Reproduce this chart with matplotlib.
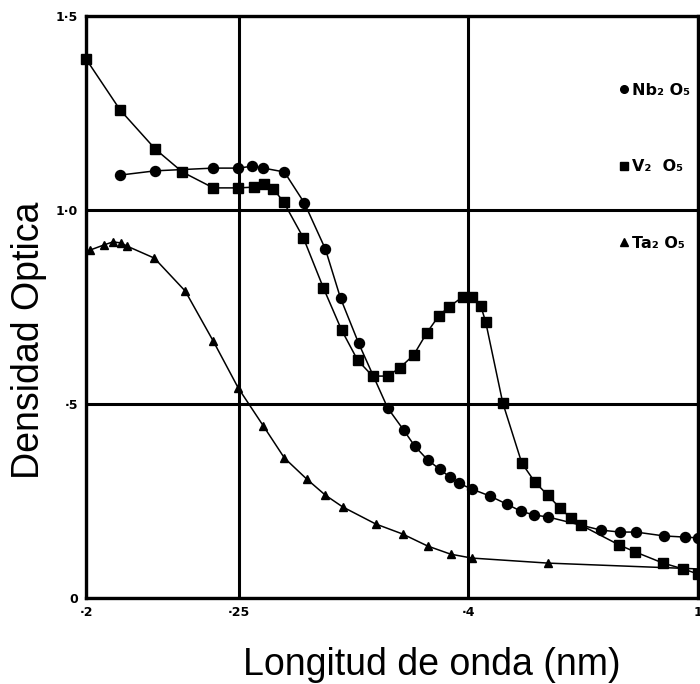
import matplotlib
matplotlib.use("Agg")
import matplotlib.pyplot as plt
import numpy as np
from matplotlib.lines import Line2D

# ======================
# Datos
# ======================
nb_x = [0.2093, 0.2199, 0.2399, 0.2497, 0.2556, 0.2604, 0.2700, 0.2799,
        0.2911, 0.2997, 0.3107, 0.3302, 0.3420, 0.3506, 0.3614, 0.3720,
        0.3813, 0.3900, 0.4034, 0.4236, 0.4445, 0.4634, 0.4825, 0.5048,
        0.6120, 0.6625, 0.7119, 0.8188, 0.9227, 1.0]
nb_y = [1.090, 1.101, 1.108, 1.108, 1.113, 1.108, 1.098, 1.018,
        0.899, 0.773, 0.657, 0.490, 0.433, 0.392, 0.356, 0.332,
        0.312, 0.296, 0.281, 0.263, 0.242, 0.224, 0.214, 0.209,
        0.175, 0.170, 0.170, 0.160, 0.157, 0.155]

v_x = [0.2000, 0.2093, 0.2199, 0.2288, 0.2399, 0.2497, 0.2564, 0.2608,
       0.2649, 0.2696, 0.2794, 0.2900, 0.3003, 0.3101, 0.3198, 0.3302,
       0.3390, 0.3498, 0.3606, 0.3711, 0.3803, 0.3941, 0.4034, 0.4133,
       0.4189, 0.4394, 0.4648, 0.4840, 0.5048, 0.5257, 0.5463, 0.5666,
       0.6596, 0.7086, 0.8144, 0.9117, 1.0]
v_y = [1.389, 1.258, 1.157, 1.098, 1.057, 1.057, 1.059, 1.067,
       1.054, 1.021, 0.928, 0.799, 0.691, 0.613, 0.572, 0.572,
       0.593, 0.626, 0.683, 0.727, 0.750, 0.776, 0.776, 0.753,
       0.711, 0.503, 0.348, 0.299, 0.265, 0.232, 0.206, 0.188,
       0.137, 0.119, 0.090, 0.075, 0.062]

ta_x = [0.2011, 0.2048, 0.2073, 0.2096, 0.2113, 0.2196, 0.2298, 0.2399,
        0.2497, 0.2604, 0.2700, 0.2810, 0.2911, 0.3009, 0.3218, 0.3412,
        0.3614, 0.3822, 0.4034, 0.5048, 1.0]
ta_y = [0.897, 0.910, 0.918, 0.915, 0.907, 0.876, 0.791, 0.662,
        0.541, 0.443, 0.361, 0.307, 0.265, 0.235, 0.191, 0.165,
        0.134, 0.113, 0.103, 0.090, 0.075]

x_ticks = [0.2, 0.25, 0.4, 1.0]
x_ticklabels = ["\u00b72", "\u00b725", "\u00b74", "1"]
y_ticks = [0, 0.5, 1.0, 1.5]
y_ticklabels = ["0", "\u00b75", "1\u00b70", "1\u00b75"]

labels = ["Nb\u2082 O\u2085", "V\u2082  O\u2085", "Ta\u2082 O\u2085"]


# escala recíproca del eje x (lineal en 1/lambda)
def fwd(x):
    x = np.asarray(x, dtype=float)
    with np.errstate(divide="ignore", invalid="ignore"):
        return -1.0 / x


def inv(y):
    y = np.asarray(y, dtype=float)
    with np.errstate(divide="ignore", invalid="ignore"):
        return -1.0 / y


# ======================
# Figura
# ======================
fig = plt.figure(figsize=(7.0, 6.84), dpi=100)
ax = fig.add_axes([0.123, 0.1257, 0.874, 0.8509])
ax.set_xscale("function", functions=(fwd, inv))
ax.set_xlim(0.2, 1.0)
ax.set_ylim(0, 1.5)

lw_data = 1.1
ax.plot(nb_x, nb_y, color="black", lw=lw_data, marker="o", ms=7.2,
        zorder=3, clip_on=False)
ax.plot(v_x, v_y, color="black", lw=lw_data, marker="s", ms=6.5,
        zorder=3, clip_on=False)
ax.plot(ta_x, ta_y, color="black", lw=lw_data, marker="^", ms=5.5,
        markevery=list(range(len(ta_x) - 1)), zorder=3, clip_on=False)

# rejilla gruesa
ax.set_xticks(x_ticks)
ax.set_xticklabels(x_ticklabels)
ax.set_yticks(y_ticks)
ax.set_yticklabels(y_ticklabels)
ax.xaxis.set_minor_locator(matplotlib.ticker.NullLocator())
ax.grid(True, color="black", lw=2.2, zorder=1)
ax.tick_params(length=0, labelsize=9, pad=6)
for lab in ax.get_xticklabels() + ax.get_yticklabels():
    lab.set_fontweight("bold")
for sp in ax.spines.values():
    sp.set_linewidth(2.4)

ax.set_xlabel("Longitud de onda (nm)", fontsize=27, family="Liberation Sans")
ax.xaxis.set_label_coords(0.565, -0.084)
ax.set_ylabel("Densidad Optica", fontsize=27, family="Liberation Sans")
ax.yaxis.set_label_coords(-0.064, 0.443)

# leyenda (sólo marcadores)
handles = [
    Line2D([], [], ls="none", marker="o", color="black", ms=5.5),
    Line2D([], [], ls="none", marker="s", color="black", ms=5.5),
    Line2D([], [], ls="none", marker="^", color="black", ms=5.5),
]
leg = ax.legend(handles, labels, loc="upper right", bbox_to_anchor=(1.0, 0.899),
                frameon=False, handlelength=0.5, handletextpad=0.25,
                labelspacing=3.85, borderaxespad=0.1,
                prop={"size": 11.5, "weight": "bold"})

fig.savefig("out.png", dpi=100)
